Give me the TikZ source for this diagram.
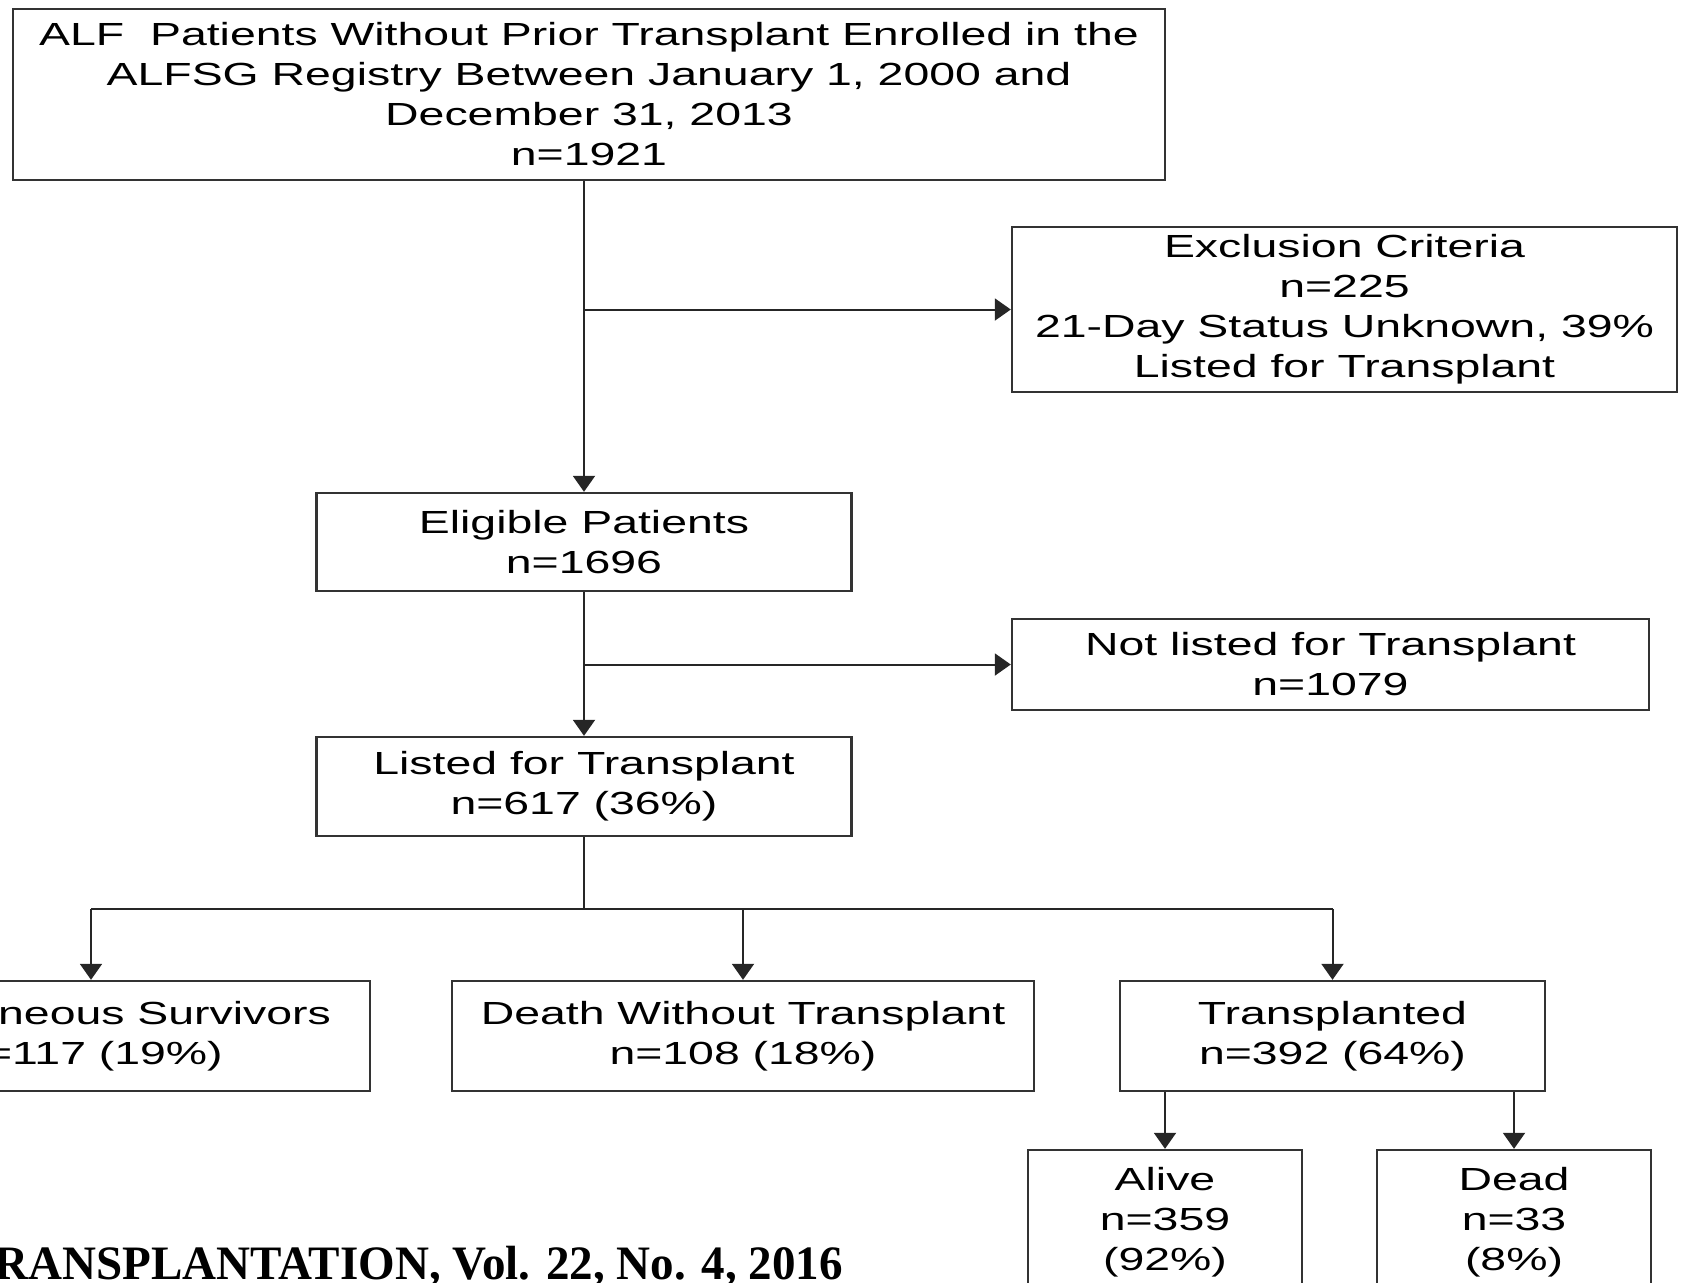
\documentclass[tikz,border=0pt]{standalone}
\usepackage{fontspec}
\setmainfont{Liberation Sans}[FakeStretch=1.45]
\newfontfamily\journalfont{Liberation Serif}[FakeStretch=0.98]
\usetikzlibrary{arrows.meta,positioning}

\tikzset{
  box/.style={draw=black!80,line width=1.2pt,align=center,inner sep=0pt,
    font=\fontsize{16}{20}\selectfont,
    execute at begin node={\rule{0pt}{18.5pt}}},
  flow/.style={draw=black!85,line width=1pt},
  arr/.style={flow,-{Triangle[length=8pt,width=11pt]}},
}

\begin{document}
\begin{tikzpicture}[x=0.5pt,y=-0.5pt]
        \useasboundingbox (0,0) rectangle (1681,1282);
        \clip (0,0) rectangle (1681,1282);
        % boxes
        \node[box,minimum width=576pt,minimum height=85.5pt] (top) at (589,94.5)
          {ALF\ \ Patients Without Prior Transplant Enrolled in the\\ALFSG Registry Between January 1, 2000 and\\December 31, 2013\\n=1921};
        \node[box,minimum width=332.5pt,minimum height=82.5pt] (excl) at (1344.5,309.5)
          {Exclusion Criteria\\n=225\\21-Day Status Unknown, 39\%\\Listed for Transplant};
        \node[box,minimum width=267.5pt,minimum height=49pt] (elig) at (584,542)
          {Eligible Patients\\n=1696};
        \node[box,minimum width=318.5pt,minimum height=45.5pt] (notlist) at (1330.5,664.5)
          {Not listed for Transplant\\n=1079};
        \node[box,minimum width=267.5pt,minimum height=49.5pt] (listed) at (584,786.5)
          {Listed for Transplant\\n=617 (36\%)};
        \node[box,minimum width=279pt,minimum height=55pt] (spont) at (91,1036)
          {Spontaneous Survivors\\n=117 (19\%)};
        \node[box,minimum width=291pt,minimum height=55pt] (death) at (743,1036)
          {Death Without Transplant\\n=108 (18\%)};
        \node[box,minimum width=212.5pt,minimum height=55pt] (trans) at (1332.5,1036)
          {Transplanted\\n=392 (64\%)};
        \node[box,minimum width=137pt,minimum height=72pt] (alive) at (1165,1222)
          {Alive\\n=359\\(92\%)};
        \node[box,minimum width=137pt,minimum height=72pt] (dead) at (1514,1222)
          {Dead\\n=33\\(8\%)};
        \node[anchor=base west,inner sep=0pt,font=\journalfont\bfseries\fontsize{24}{28}\selectfont] (journal) at (-6,1279)
          {RANSPLANTATION, Vol. 22, No. 4, 2016};

        % connectors
        \coordinate (split) at (584,909);
        \draw[arr] (top.south -| elig.north) -- (elig.north);
        \draw[arr] (elig.north |- excl.west) -- (excl.west);
        \draw[arr] (elig.south) -- (listed.north);
        \draw[arr] (elig.south |- notlist.west) -- (notlist.west);
        \draw[flow] (listed.south) -- (split);
        \draw[flow] (spont.north |- split) -- (trans.north |- split);
        \draw[arr] (spont.north |- split) -- (spont.north);
        \draw[arr] (death.north |- split) -- (death.north);
        \draw[arr] (trans.north |- split) -- (trans.north);
        \draw[arr] (trans.south -| alive.north) -- (alive.north);
        \draw[arr] (trans.south -| dead.north) -- (dead.north);
\end{tikzpicture}
\end{document}
